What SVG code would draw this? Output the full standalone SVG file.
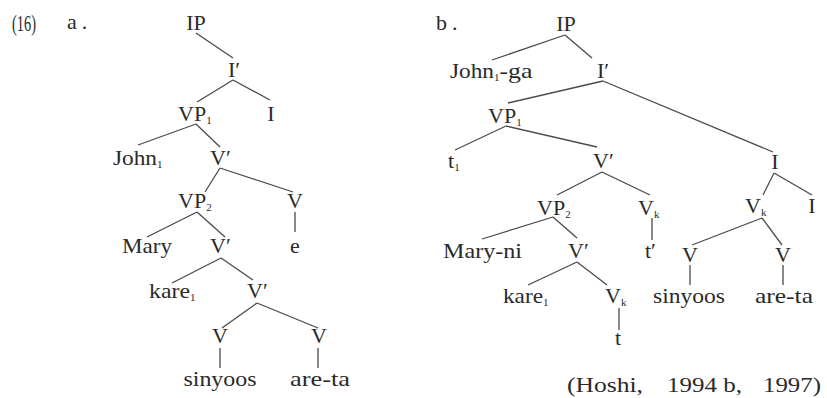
<svg xmlns="http://www.w3.org/2000/svg" width="827" height="398" viewBox="0 0 827 398">
<style>
text{font-family:"Liberation Serif","Times New Roman",serif;font-size:22px;fill:#2a2a2a}
.s{font-size:11px}
.m{text-anchor:middle}
#connectors line{stroke:#4a4a4a;stroke-width:1.3;fill:none}
</style>
<rect width="827" height="398" fill="#fff"/>
<g id="label-16"><text transform="translate(12,31) scale(0.6,1)" style="font-size:24px">(16)</text></g>
<g id="label-a"><text x="67" y="29" letter-spacing="5">a.</text></g>
<g id="label-b"><text x="436" y="30" letter-spacing="5">b.</text></g>

<g id="connectors">
<line x1="196" y1="33" x2="233" y2="58"/>
<line x1="233" y1="80" x2="197" y2="102"/>
<line x1="233" y1="80" x2="270" y2="100"/>
<line x1="196" y1="124" x2="138" y2="145"/>
<line x1="196" y1="124" x2="220" y2="147"/>
<line x1="220" y1="168" x2="205" y2="192"/>
<line x1="220" y1="168" x2="293" y2="192"/>
<line x1="197" y1="212" x2="147" y2="237"/>
<line x1="197" y1="212" x2="225" y2="237"/>
<line x1="295" y1="212" x2="295" y2="232"/>
<line x1="221" y1="258" x2="172" y2="283"/>
<line x1="221" y1="258" x2="253" y2="280"/>
<line x1="257" y1="303" x2="222" y2="328"/>
<line x1="257" y1="303" x2="318" y2="328"/>
<line x1="220" y1="348" x2="220" y2="368"/>
<line x1="318" y1="348" x2="318" y2="368"/>

<line x1="565" y1="35" x2="492" y2="60"/>
<line x1="565" y1="35" x2="592" y2="58"/>
<line x1="603" y1="81" x2="508" y2="103"/>
<line x1="603" y1="81" x2="773" y2="152"/>
<line x1="506" y1="126" x2="455" y2="150"/>
<line x1="506" y1="126" x2="597" y2="147"/>
<line x1="602" y1="172" x2="557" y2="195"/>
<line x1="602" y1="172" x2="650" y2="195"/>
<line x1="553" y1="217" x2="482" y2="239"/>
<line x1="553" y1="217" x2="577" y2="238"/>
<line x1="652" y1="218" x2="652" y2="240"/>
<line x1="577" y1="262" x2="528" y2="285"/>
<line x1="577" y1="262" x2="607" y2="285"/>
<line x1="619" y1="308" x2="619" y2="330"/>
<line x1="774" y1="173" x2="763" y2="195"/>
<line x1="774" y1="173" x2="812" y2="195"/>
<line x1="762" y1="218" x2="692" y2="245"/>
<line x1="762" y1="218" x2="782" y2="245"/>
<line x1="690" y1="265" x2="690" y2="285"/>
<line x1="783" y1="265" x2="783" y2="285"/>
</g>

<!-- tree a -->
<g id="a-IP"><text class="m" x="196" y="30">IP</text></g>
<g id="a-Ibar"><text x="228" y="77">I′</text></g>
<g id="a-VP1"><text x="178" y="121">VP<tspan class="s" dy="3">1</tspan></text></g>
<g id="a-I"><text class="m" x="271" y="121">I</text></g>
<g id="a-John"><text x="113" y="165"><tspan textLength="44" lengthAdjust="spacingAndGlyphs">John</tspan><tspan class="s" dy="3">1</tspan></text></g>
<g id="a-Vbar1"><text x="210" y="165">V′</text></g>
<g id="a-VP2"><text x="178" y="208">VP<tspan class="s" dy="3">2</tspan></text></g>
<g id="a-V1"><text class="m" x="295" y="208">V</text></g>
<g id="a-Mary"><text x="122" y="253" textLength="50" lengthAdjust="spacingAndGlyphs">Mary</text></g>
<g id="a-Vbar2"><text x="210" y="253">V′</text></g>
<g id="a-e"><text class="m" x="295" y="253">e</text></g>
<g id="a-kare"><text x="149" y="298"><tspan textLength="41" lengthAdjust="spacingAndGlyphs">kare</tspan><tspan class="s" dy="3">1</tspan></text></g>
<g id="a-Vbar3"><text x="247" y="298">V′</text></g>
<g id="a-V2"><text class="m" x="220" y="343">V</text></g>
<g id="a-V3"><text class="m" x="319" y="343">V</text></g>
<g id="a-sinyoos"><text class="m" x="220" y="386" textLength="73" lengthAdjust="spacingAndGlyphs">sinyoos</text></g>
<g id="a-areta"><text class="m" x="320" y="386" textLength="60" lengthAdjust="spacingAndGlyphs">are-ta</text></g>

<!-- tree b -->
<g id="b-IP"><text class="m" x="566" y="31">IP</text></g>
<g id="b-John"><text x="450" y="78"><tspan textLength="44" lengthAdjust="spacingAndGlyphs">John</tspan><tspan class="s" dy="3">1</tspan><tspan dy="-3" textLength="33" lengthAdjust="spacingAndGlyphs">-ga</tspan></text></g>
<g id="b-Ibar"><text x="597" y="78">I′</text></g>
<g id="b-VP1"><text x="488" y="123">VP<tspan class="s" dy="3">1</tspan></text></g>
<g id="b-t1"><text x="448" y="168">t<tspan class="s" dy="3">1</tspan></text></g>
<g id="b-Vbar1"><text x="593" y="168">V′</text></g>
<g id="b-VP2"><text x="537" y="215">VP<tspan class="s" dy="3">2</tspan></text></g>
<g id="b-Vk1"><text x="638" y="215">V<tspan class="s" dy="3">k</tspan></text></g>
<g id="b-Maryni"><text x="443" y="258" textLength="79" lengthAdjust="spacingAndGlyphs">Mary-ni</text></g>
<g id="b-Vbar2"><text x="568" y="258">V′</text></g>
<g id="b-tprime"><text x="645" y="258">t′</text></g>
<g id="b-kare"><text x="503" y="303"><tspan textLength="40" lengthAdjust="spacingAndGlyphs">kare</tspan><tspan class="s" dy="3">1</tspan></text></g>
<g id="b-Vk2"><text x="605" y="303">V<tspan class="s" dy="3">k</tspan></text></g>
<g id="b-t"><text class="m" x="618" y="345">t</text></g>
<g id="b-I1"><text class="m" x="775" y="169">I</text></g>
<g id="b-Vk3"><text x="745" y="213">V<tspan class="s" dy="3">k</tspan></text></g>
<g id="b-I2"><text class="m" x="812" y="213">I</text></g>
<g id="b-V1"><text class="m" x="690" y="262">V</text></g>
<g id="b-V2"><text class="m" x="783" y="262">V</text></g>
<g id="b-sinyoos"><text class="m" x="689" y="303" textLength="72" lengthAdjust="spacingAndGlyphs">sinyoos</text></g>
<g id="b-areta"><text class="m" x="784" y="303" textLength="58" lengthAdjust="spacingAndGlyphs">are-ta</text></g>

<g id="citation"><text y="392"><tspan x="567" textLength="76" lengthAdjust="spacingAndGlyphs">(Hoshi,</tspan><tspan x="667" textLength="75" lengthAdjust="spacingAndGlyphs">1994 b,</tspan><tspan x="763" textLength="58" lengthAdjust="spacingAndGlyphs">1997)</tspan></text></g>
</svg>
